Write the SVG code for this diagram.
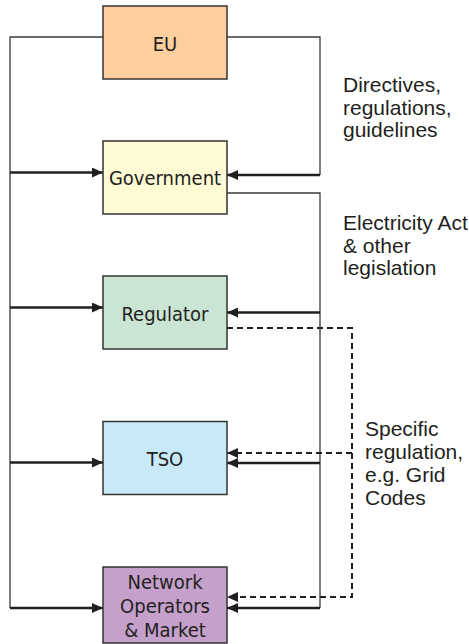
<svg xmlns="http://www.w3.org/2000/svg" width="469" height="644" viewBox="0 0 469 644">
  <style>
    .box { stroke: #333333; stroke-width: 1.5; }
    .lbl { font-family: "DejaVu Sans Condensed", "DejaVu Sans", sans-serif; font-stretch: condensed; font-size: 20px; fill: #231f20; text-anchor: middle; }
    .note { font-family: "Liberation Sans", Arial, sans-serif; font-size: 21px; fill: #231f20; }
    .thin { fill: none; stroke: #3a3a3a; stroke-width: 1.3; }
    .thick { fill: none; stroke: #1f1f1f; stroke-width: 2.6; }
    .dash { fill: none; stroke: #1f1f1f; stroke-width: 2; stroke-dasharray: 6 4; }
  </style>
  <defs>
    <marker id="arrow" markerUnits="userSpaceOnUse" markerWidth="11" markerHeight="10" refX="11" refY="5" orient="auto">
      <path d="M0,0 L11,5 L0,10 z" fill="#1f1f1f"/>
    </marker>
  </defs>

  <rect width="469" height="644" fill="#ffffff"/>

  <!-- connectors -->
  <g id="connectors">
    <!-- left-hand feedback bus -->
    <path class="thin" d="M103,37 H10 V608"/>
    <path class="thick" d="M10,172.5 H103" marker-end="url(#arrow)"/>
    <path class="thick" d="M10,307.5 H103" marker-end="url(#arrow)"/>
    <path class="thick" d="M10,462.5 H103" marker-end="url(#arrow)"/>
    <path class="thick" d="M10,608 H103" marker-end="url(#arrow)"/>

    <!-- EU to government -->
    <path class="thin" d="M227,37 H320 V175"/>
    <path class="thick" d="M320,175 H227" marker-end="url(#arrow)"/>

    <!-- government to regulator, TSO and network operators -->
    <path class="thin" d="M227,193 H320 V608"/>
    <path class="thick" d="M320,312.5 H227" marker-end="url(#arrow)"/>
    <path class="thick" d="M320,463 H227" marker-end="url(#arrow)"/>
    <path class="thick" d="M320,608 H227" marker-end="url(#arrow)"/>

    <!-- regulator specific regulation -->
    <path class="dash" d="M227,328 H352 V597 H227" marker-end="url(#arrow)"/>
    <path class="dash" d="M352,453 H227" marker-end="url(#arrow)"/>
  </g>

  <!-- nodes -->
  <g id="eu">
    <rect class="box" x="103" y="6" width="124" height="73" fill="#fdcf9e"/>
    <text class="lbl" x="165" y="50.5">EU</text>
  </g>
  <g id="government">
    <rect class="box" x="103" y="141" width="124" height="73" fill="#fffbd5"/>
    <text class="lbl" x="165" y="185">Government</text>
  </g>
  <g id="regulator">
    <rect class="box" x="103" y="276" width="124" height="73" fill="#cae5d4"/>
    <text class="lbl" x="165" y="320.5">Regulator</text>
  </g>
  <g id="tso">
    <rect class="box" x="103" y="421.5" width="124" height="73" fill="#c7e9f8"/>
    <text class="lbl" x="165" y="465.5">TSO</text>
  </g>
  <g id="network-operators">
    <rect class="box" x="103" y="567" width="124" height="76" fill="#c5a0cb"/>
    <text class="lbl" x="165" y="589">Network</text>
    <text class="lbl" x="165" y="613">Operators</text>
    <text class="lbl" x="165" y="637">&amp; Market</text>
  </g>

  <!-- connector notes -->
  <g id="note-eu">
    <text class="note" x="343" y="92">Directives,</text>
    <text class="note" x="343" y="114.5">regulations,</text>
    <text class="note" x="343" y="137">guidelines</text>
  </g>
  <g id="note-government">
    <text class="note" x="343" y="230">Electricity Act</text>
    <text class="note" x="343" y="252.5">&amp; other</text>
    <text class="note" x="343" y="275">legislation</text>
  </g>
  <g id="note-regulator">
    <text class="note" x="365" y="436">Specific</text>
    <text class="note" x="365" y="459">regulation,</text>
    <text class="note" x="365" y="482">e.g. Grid</text>
    <text class="note" x="365" y="505">Codes</text>
  </g>
</svg>
